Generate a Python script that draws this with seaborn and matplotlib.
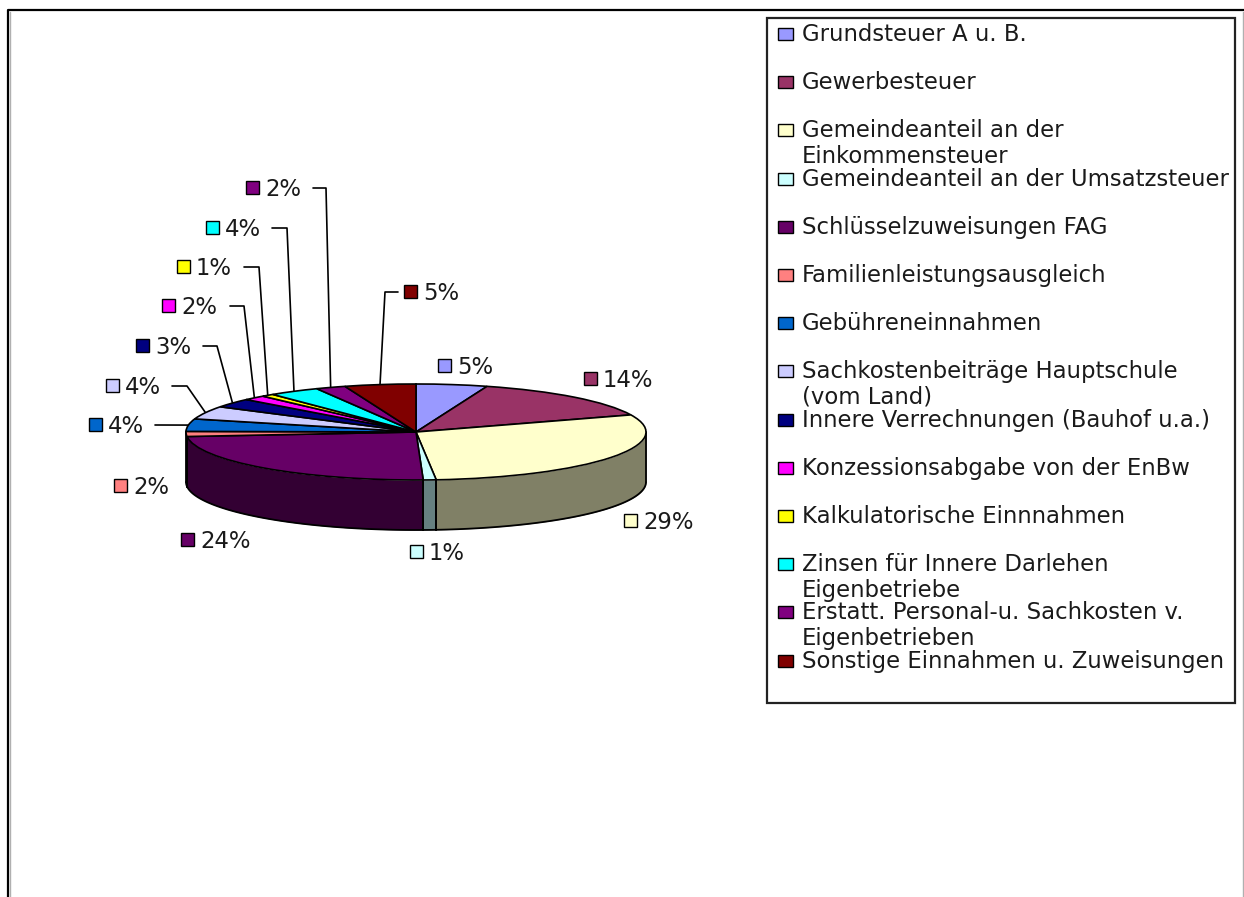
import numpy as np
import matplotlib
matplotlib.use("Agg")
import matplotlib.pyplot as plt
from matplotlib.patches import Rectangle
import seaborn as sns

# === DATA ===
categories = ["Grundsteuer A u. B.", "Gewerbesteuer", "Gemeindeanteil an der\nEinkommensteuer",
              "Gemeindeanteil an der Umsatzsteuer", "Schlüsselzuweisungen FAG", "Familienleistungsausgleich",
              "Gebühreneinnahmen", "Sachkostenbeiträge Hauptschule\n(vom Land)", "Innere Verrechnungen (Bauhof u.a.)",
              "Konzessionsabgabe von der EnBw", "Kalkulatorische Einnnahmen", "Zinsen für Innere Darlehen\nEigenbetriebe",
              "Erstatt. Personal-u. Sachkosten v.\nEigenbetrieben", "Sonstige Einnahmen u. Zuweisungen"]
shares = [5.0, 14.2, 29.4, 0.9, 24.0, 1.7, 4.2, 4.4, 3.0, 1.6, 0.9, 3.6, 2.1, 5.0]
colors = ["#9999FF", "#993366", "#FFFFCC", "#CCFFFF", "#660066", "#FF8080", "#0066CC",
          "#CCCCFF", "#000080", "#FF00FF", "#FFFF00", "#00FFFF", "#800080", "#800000"]

# === LAYOUT (pixel) ===
W, H = 1244, 897
swatch_xy = [(444, 366), (590, 379), (630, 521), (416, 552), (187, 540), (120, 486), (95, 425),
             (112, 386), (142, 346), (168, 306), (183, 267), (212, 228), (252, 188), (410, 292)]
# leader lines: category index -> start x, knee x
leaders = {6: (155, 155), 7: (172, 187), 8: (203, 217), 9: (230, 244), 10: (244, 259),
           11: (272, 287), 12: (313, 326), 13: (398, 385)}
CX, CY, RX, RY, DEPTH = 416, 432, 230, 48, 50
FONT = "DejaVu Sans"
LEG_SIZE = 16.4
PCT_SIZE = 16.4

sns.set_theme(style="white")
plt.rcParams["font.family"] = FONT
palette = sns.color_palette(colors)
dark = [tuple(c * 0.5 for c in col) for col in palette]

fig = plt.figure(figsize=(W / 100, H / 100), dpi=100, facecolor="white")

# overlay in pixel coordinates
bg = fig.add_axes([0, 0, 1, 1])
bg.set_xlim(0, W)
bg.set_ylim(H, 0)
bg.axis("off")

# pie axes, unit circle squashed to the ellipse
d = DEPTH / RY
ax = fig.add_axes([(CX - RX) / W, 1 - (CY + RY + DEPTH) / H, 2 * RX / W, (2 * RY + DEPTH) / H])
ax.patch.set_alpha(0)

# side wall
edges = np.cumsum([0] + shares) / 100 * 2 * np.pi
for i in range(len(shares)):
    t = np.linspace(edges[i], edges[i + 1], 80)
    x, y = np.sin(t), np.cos(t)
    keep = y <= 0
    if keep.any():
        ax.fill_between(x[keep], y[keep], y[keep] - d, color=dark[i], lw=0, clip_on=False, zorder=1)
        ax.plot(x[keep], y[keep] - d, color="black", lw=1.3, clip_on=False, zorder=2)
        for k in (np.argmax(keep), len(keep) - 1 - np.argmax(keep[::-1])):
            ax.plot([x[k], x[k]], [y[k], y[k] - d], color="black", lw=1.3, clip_on=False, zorder=2)

ax.pie(shares, colors=palette, startangle=90, counterclock=False, radius=1,
       wedgeprops=dict(edgecolor="black", linewidth=1.2, zorder=3))
ax.set_aspect("auto")
ax.set_xlim(-1, 1)
ax.set_ylim(-1 - d, 1)
for w in ax.patches:
    w.set_clip_on(False)

# outer frame
bg.plot([10, 10], [H, 12], color="#b0b0b0", lw=1)
bg.plot([8, 8, W], [H, 10.5, 10.5], color="black", lw=1.6)
bg.plot([1243, 1243], [12, H], color="#b0b0b0", lw=1)

# data labels
for i, (sx, sy) in enumerate(swatch_xy):
    bg.add_patch(Rectangle((sx - 6.5, sy - 6.5), 13, 13, fc=palette[i], ec="black", lw=1))
    bg.text(sx + 13, sy - 1, f"{shares[i]:.0f}%", fontsize=PCT_SIZE, va="center_baseline", ha="left", color="#1a1a1a")
    if i in leaders:
        x0, xk = leaders[i]
        mid = (edges[i] + edges[i + 1]) / 2
        bg.plot([x0, xk, CX + RX * np.sin(mid)], [sy, sy, CY - RY * np.cos(mid)], color="black", lw=1.2)

# legend box
bg.add_patch(Rectangle((767, 18), 468, 685, fc="none", ec="#222222", lw=1.6))
for i, name in enumerate(categories):
    y = 33.5 + 48.2 * i
    bg.add_patch(Rectangle((778, y - 5.5), 15, 12, fc=palette[i], ec="black", lw=1))
    lines = name.split("\n")
    for j, line in enumerate(lines):
        bg.text(802, y - 1.5 + 25.5 * j, line, fontsize=LEG_SIZE, va="center_baseline", ha="left", color="#1a1a1a")

fig.savefig("out.png", dpi=100)
